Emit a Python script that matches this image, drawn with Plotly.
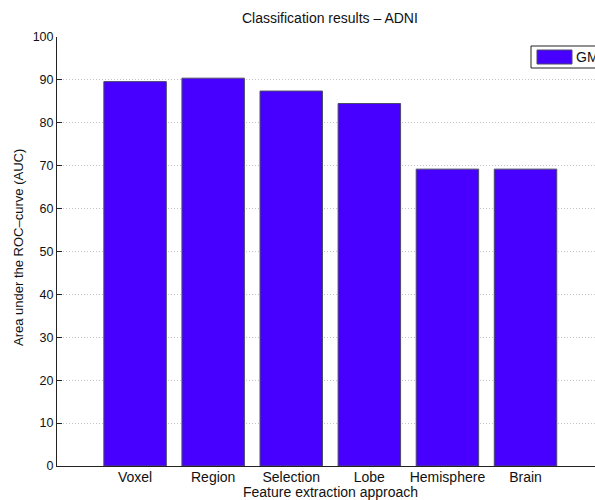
import plotly.graph_objects as go

# Classification AUC per feature extraction approach (grey matter features)
approaches = ["Voxel", "Region", "Selection", "Lobe", "Hemisphere", "Brain"]
auc_gm = [89.6, 90.4, 87.4, 84.5, 69.2, 69.2]
y_ticks = list(range(0, 101, 10))

W, H = 595, 500
ML, MR, MT, MB = 57, 0, 37, 34
PW, PH = W - ML - MR, H - MT - MB
BAR_COLOR = "#4700FF"
FONT = "Liberation Sans, Arial, Helvetica, sans-serif"


def px_x(x):
    return (x - ML) / PW


def px_y(y):
    return 1 - (y - MT) / PH


fig = go.Figure()
fig.add_trace(go.Bar(
    x=approaches, y=auc_gm, name="GM", width=0.8,
    marker=dict(color=BAR_COLOR, line=dict(color="#4a4a6a", width=1)),
    showlegend=False,
))

fig.update_layout(
    width=W, height=H,
    margin=dict(l=ML, r=MR, t=MT, b=MB, autoexpand=False),
    paper_bgcolor="white", plot_bgcolor="white",
    font=dict(family=FONT, size=14, color="#111"),
    xaxis=dict(
        range=[-1, 5.89], showgrid=False, showline=True, linecolor="#222",
        linewidth=1, ticks="", tickfont=dict(size=14), automargin=False,
        ticklabelstandoff=-2,
    ),
    yaxis=dict(
        range=[0, 100], tickvals=y_ticks, showgrid=True, gridcolor="#c4c4c4",
        griddash="1px,2px", gridwidth=1, zeroline=False, showline=True,
        linecolor="#222", linewidth=1, ticks="inside", ticklen=5,
        tickcolor="#222", tickfont=dict(size=12.5), automargin=False,
    ),
    annotations=[
        dict(text="Classification results \u2013 ADNI", xref="paper", yref="paper",
             x=px_x(330), y=px_y(18), xanchor="center", yanchor="middle",
             showarrow=False, font=dict(size=14)),
        dict(text="Feature extraction approach", xref="paper", yref="paper",
             x=px_x(330), y=px_y(492), xanchor="center", yanchor="middle",
             showarrow=False, font=dict(size=14)),
        dict(text="Area under the ROC\u2013curve (AUC)", xref="paper", yref="paper",
             x=px_x(18), y=px_y(248), textangle=-90,
             xanchor="center", yanchor="middle", showarrow=False,
             font=dict(size=13)),
        dict(text="GM", xref="paper", yref="paper",
             x=px_x(574), y=px_y(57), xanchor="left", yanchor="middle",
             showarrow=False, font=dict(size=14)),
    ],
    shapes=[
        # legend frame and swatch
        dict(type="rect", xref="paper", yref="paper",
             x0=px_x(531), x1=px_x(620), y0=px_y(68), y1=px_y(46),
             line=dict(color="#222", width=1), fillcolor="white", layer="above"),
        dict(type="rect", xref="paper", yref="paper",
             x0=px_x(537), x1=px_x(572), y0=px_y(64), y1=px_y(50),
             line=dict(color="#4a4a6a", width=1), fillcolor=BAR_COLOR, layer="above"),
    ],
)

fig.write_html("out.html")
